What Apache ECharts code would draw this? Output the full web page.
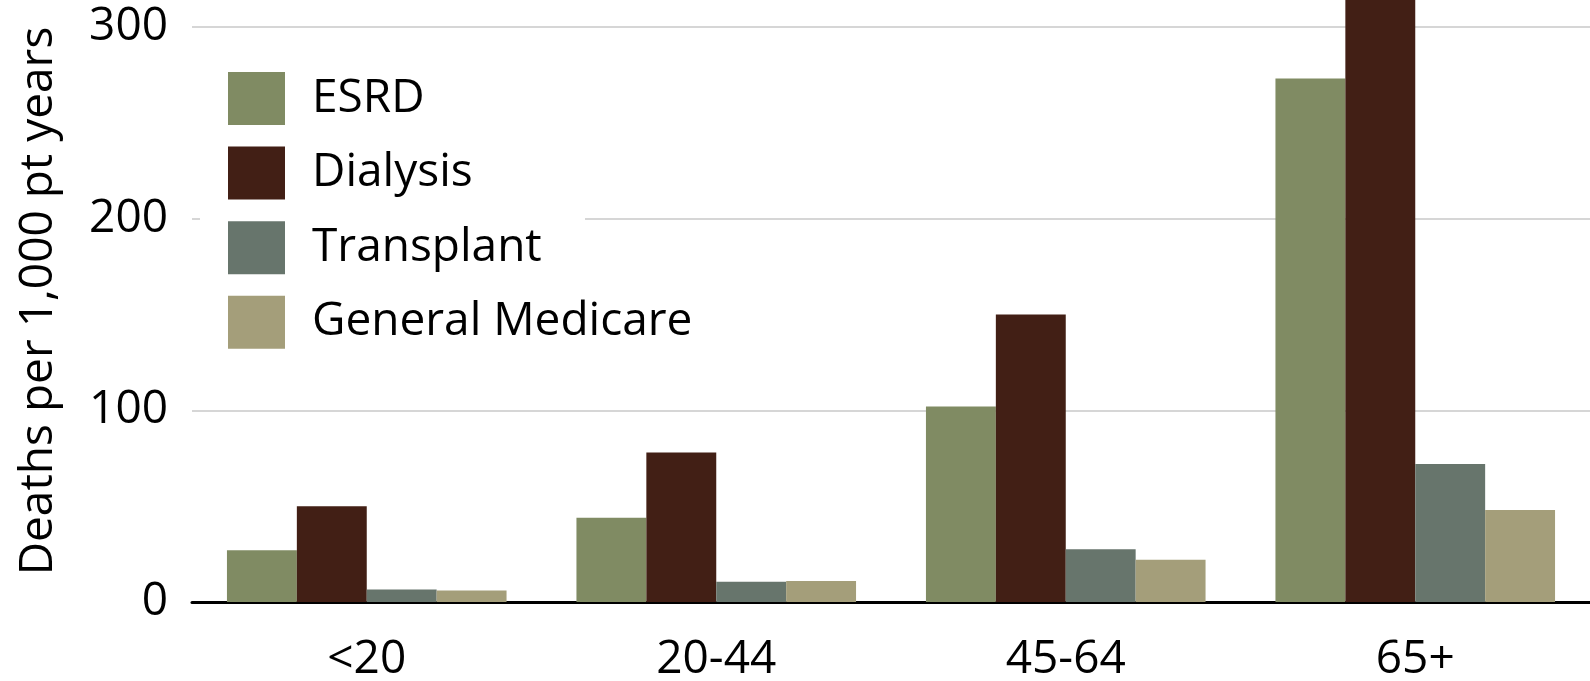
<!DOCTYPE html>
<html>
<head>
<meta charset="utf-8">
<script src="https://cdn.jsdelivr.net/npm/echarts@6/dist/echarts.min.js"></script>
<style>
html, body { margin: 0; padding: 0; background: #fff; }
#chart { width: 1590px; height: 681px; }
</style>
</head>
<body>
<div id="chart"></div>
<script>
// Deaths per 1,000 patient years by age group
const ageGroups = ['<20', '20-44', '45-64', '65+'];
const seriesNames = ['ESRD', 'Dialysis', 'Transplant', 'General Medicare'];
const esrd = [27, 44, 102, 273];
const dialysis = [50, 78, 150, 345];
const transplant = [6.5, 10.5, 27.5, 72];
const generalMedicare = [6, 11, 22, 48];
const yTicks = [0, 100, 200, 300];
const yAxisTitle = 'Deaths per 1,000 pt years';

const palette = ['#808b63', '#421f15', '#67756c', '#a49e7a'];
const fontFamily = '"Open Sans", "Noto Sans", sans-serif';

const chart = echarts.init(document.getElementById('chart'), null, { renderer: 'canvas' });

const values = [esrd, dialysis, transplant, generalMedicare];

chart.setOption({
  animation: false,
  backgroundColor: '#ffffff',
  color: palette,
  textStyle: { fontFamily: fontFamily },
  grid: { left: 192, right: 0, top: 0, bottom: 79, containLabel: false, outerBoundsMode: 'none' },
  legend: {
    orient: 'vertical',
    left: 228,
    top: 72,
    padding: 0,
    itemWidth: 57,
    itemHeight: 53,
    itemGap: 21.6,
    icon: 'rect',
    selectedMode: false,
    data: seriesNames,
    textStyle: { fontSize: 46, color: '#000', fontFamily: fontFamily, padding: [4, 0, 0, 22] }
  },
  // plain white panel behind the legend, hiding the gridline that runs under it
  graphic: [{
    type: 'rect',
    z: 1,
    silent: true,
    shape: { x: 200, y: 60, width: 385, height: 300 },
    style: { fill: '#ffffff' }
  }],
  xAxis: {
    type: 'category',
    data: ageGroups,
    axisLine: { show: true, lineStyle: { color: '#000', width: 3 } },
    axisTick: { show: false },
    axisLabel: { fontSize: 46, color: '#000', margin: 35, fontFamily: fontFamily },
    splitLine: { show: false }
  },
  yAxis: {
    type: 'value',
    min: 0,
    max: 314,
    interval: 100,
    name: yAxisTitle,
    nameLocation: 'middle',
    nameGap: 130,
    nameTextStyle: { fontSize: 46, color: '#000', fontFamily: fontFamily },
    axisLine: { show: false },
    axisTick: { show: false },
    axisLabel: {
      fontSize: 46,
      color: '#000',
      margin: 24,
      fontFamily: fontFamily,
      showMaxLabel: false,
      formatter: v => (yTicks.indexOf(v) >= 0 ? String(v) : '')
    },
    splitLine: { show: true, showMinLine: false, showMaxLine: false, lineStyle: { color: '#c9c9c9', width: 1.5 } }
  },
  series: seriesNames.map((name, i) => ({
    name: name,
    type: 'bar',
    data: values[i],
    barGap: '0%',
    barCategoryGap: '20%',
    clip: true,
    itemStyle: { color: palette[i] }
  }))
});
</script>
</body>
</html>
